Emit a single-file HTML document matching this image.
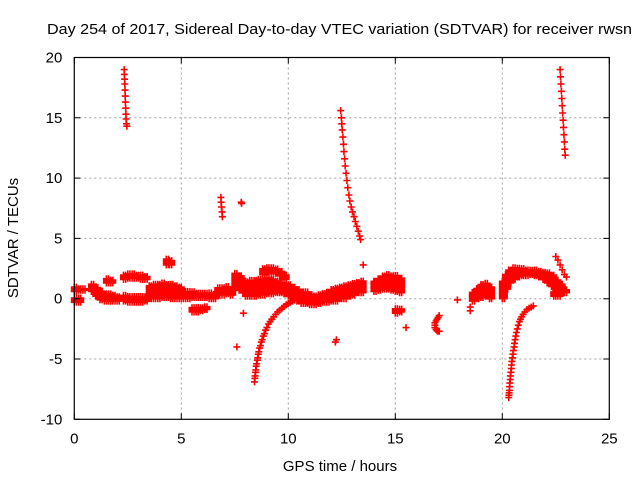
<!DOCTYPE html>
<html><head><meta charset="utf-8"><style>
html,body{margin:0;padding:0;background:#fff;}
svg{display:block;font-family:"Liberation Sans",sans-serif;}
</style></head><body>
<svg id="chart" width="640" height="480" viewBox="0 0 640 480">
<rect width="640" height="480" fill="#fff"/>
<text x="47" y="34" font-size="15" textLength="585" lengthAdjust="spacingAndGlyphs" fill="#000">Day 254 of 2017, Sidereal Day-to-day VTEC variation (SDTVAR) for receiver rwsn</text>
<g id="grid"></g>
<g id="marks"></g>
<g id="axes"></g>
<text x="340" y="471" font-size="15" text-anchor="middle">GPS time / hours</text>
<text transform="translate(18,238) rotate(-90)" font-size="15" text-anchor="middle">SDTVAR / TECUs</text>
</svg>
<script>
const xTicks=[0,5,10,15,20,25];
const yTicks=[-10,-5,0,5,10,15,20];
// dense clusters: bin hour, low value, high value
const binH=[0,0.2,0.4,0,0.2,0.8,1.0,1.2,1.4,1.6,1.8,2.0,1.5,1.7,2.3,2.5,2.7,2.9,3.1,3.3,2.3,2.5,2.7,2.9,3.1,3.3,3.5,3.7,3.9,4.1,4.3,4.5,4.7,4.9,4.3,4.45,5.1,5.3,5.5,5.7,5.9,6.1,6.3,6.5,5.5,5.7,5.9,6.1,6.7,6.9,7.1,7.3,7.5,7.7,7.9,8.0,8.2,8.4,8.6,8.8,9.0,9.2,9.4,9.6,9.8,10.0,10.2,10.4,8.8,9.0,9.2,9.4,9.6,9.8,10.6,10.8,11.0,11.2,11.4,11.6,11.8,12.0,12.2,12.4,12.6,12.8,13.0,13.2,13.4,14.0,14.2,14.4,14.6,14.8,15.0,15.2,15.0,15.2,18.6,18.8,19.0,19.2,19.4,20.0,20.15,20.3,20.5,20.7,20.9,21.1,21.3,21.5,21.7,21.9,22.1,22.3,22.5,22.7,22.9,22.4,22.6];
const binLo=[0.6,0.7,0.7,-0.3,-0.3,0.6,0.2,-0.1,-0.2,-0.2,-0.2,-0.2,1.3,1.3,-0.2,-0.3,-0.3,-0.3,-0.3,-0.2,1.6,1.7,1.7,1.7,1.6,1.6,0.0,0.0,0.0,0.1,0.1,0.0,0.0,0.0,2.8,2.8,0.0,0.0,0.1,0.1,0.1,0.1,0.0,0.0,-1.1,-1.1,-1.0,-0.9,0.3,0.3,0.4,0.3,0.9,0.7,0.5,0.2,0.2,0.2,0.3,0.3,0.4,0.4,0.5,0.5,0.4,0.2,0.0,-0.2,2.0,2.1,2.2,2.1,1.9,1.6,-0.4,-0.4,-0.5,-0.5,-0.4,-0.3,-0.3,-0.2,-0.2,0.0,0.0,0.2,0.3,0.5,0.5,0.6,0.7,0.8,0.8,0.7,0.6,0.5,-1.2,-1.1,-0.2,0.0,0.1,0.2,0.0,0.0,0.8,1.3,1.6,1.8,1.9,1.9,2.0,1.9,1.8,1.6,1.3,1.0,0.7,0.6,0.5,0.2,0.2];
const binHi=[1.0,0.9,0.9,0.1,0.1,1.2,1.0,0.7,0.5,0.4,0.3,0.2,1.7,1.6,0.3,0.2,0.2,0.2,0.2,0.2,2.0,2.1,2.1,2.0,2.0,1.9,1.1,1.2,1.3,1.3,1.2,1.2,1.1,1.0,3.3,3.2,0.7,0.6,0.6,0.5,0.5,0.5,0.5,0.4,-0.7,-0.7,-0.7,-0.6,0.9,0.9,1.0,0.8,2.2,1.9,1.5,1.5,1.6,1.6,1.7,1.7,1.8,1.6,1.5,1.4,1.3,1.2,1.0,0.8,2.5,2.6,2.6,2.5,2.3,2.0,0.6,0.6,0.4,0.3,0.4,0.5,0.6,0.8,0.9,1.0,1.1,1.2,1.3,1.4,1.5,1.5,1.7,1.9,2.0,2.0,2.0,1.8,-0.8,-0.8,0.6,0.9,1.2,1.3,1.0,1.5,2.0,2.4,2.6,2.6,2.5,2.4,2.4,2.4,2.3,2.3,2.2,2.0,1.6,1.2,0.8,0.6,0.6];
// individual tracks / points
const ptH=[2.33,2.34,2.35,2.36,2.37,2.38,2.39,2.40,2.41,2.42,2.44,2.46,
6.85,6.86,6.88,6.90,6.92,7.80,7.82,
12.45,12.48,12.50,12.52,12.55,12.58,12.60,12.63,12.66,12.70,12.74,12.78,12.83,12.88,12.94,13.00,13.07,13.13,13.20,13.27,13.33,13.38,
22.70,22.72,22.74,22.76,22.78,22.80,22.82,22.84,22.86,22.88,22.90,22.92,22.94,
8.42,8.44,8.45,8.47,8.48,8.50,8.52,8.55,8.57,8.60,8.62,8.66,8.70,8.74,8.78,8.83,8.88,8.94,9.00,9.07,9.15,9.23,9.32,9.41,9.50,9.60,9.70,9.80,9.90,10.00,10.10,10.20,10.30,
20.30,20.31,20.32,20.33,20.34,20.35,20.37,20.38,20.40,20.42,20.43,20.45,20.47,20.50,20.52,20.55,20.57,20.60,20.63,20.66,20.70,20.75,20.80,20.85,20.90,20.97,21.05,21.15,21.25,21.35,21.45,
7.60,12.20,12.25,15.50,17.90,18.50,18.50,13.50,7.90,
17.05,17.0,16.95,16.9,16.85,16.85,16.85,16.9,16.95,17.0,17.05,
22.50,22.60,22.70,22.80,22.90,23.00];
const ptV=[19.0,18.6,18.2,17.8,17.3,16.8,16.3,15.8,15.3,14.9,14.5,14.3,
8.4,8.0,7.6,7.2,6.8,8.0,7.9,
15.6,15.0,14.5,14.0,13.4,12.8,12.2,11.6,11.0,10.4,9.8,9.2,8.6,8.1,7.6,7.2,6.8,6.4,6.0,5.6,5.2,4.9,
19.0,18.4,17.8,17.2,16.6,16.0,15.4,14.8,14.2,13.6,13.0,12.4,11.9,
-6.9,-6.6,-6.4,-6.1,-5.9,-5.6,-5.4,-5.1,-4.9,-4.6,-4.4,-4.1,-3.9,-3.6,-3.4,-3.1,-2.9,-2.6,-2.4,-2.1,-1.9,-1.7,-1.5,-1.3,-1.1,-0.95,-0.8,-0.65,-0.5,-0.4,-0.3,-0.2,-0.1,
-8.2,-8.0,-7.8,-7.6,-7.3,-7.0,-6.7,-6.4,-6.1,-5.8,-5.5,-5.2,-4.9,-4.6,-4.3,-4.0,-3.7,-3.4,-3.1,-2.8,-2.5,-2.2,-1.9,-1.7,-1.5,-1.3,-1.1,-0.9,-0.8,-0.7,-0.6,
-4.0,-3.6,-3.4,-2.4,-0.1,-0.7,-1.0,2.8,-1.2,
-1.4,-1.55,-1.7,-1.85,-2.0,-2.2,-2.4,-2.55,-2.65,-2.7,-2.7,
3.5,3.2,2.8,2.4,2.0,1.8];

const L=74.3,R=609.3,T=57.5,B=419.3;
const xS=h=>L+(h-0)/(25-0)*(R-L);
const yS=v=>B-(v+10)/(30)*(B-T);
const NS='http://www.w3.org/2000/svg';
function mk(tag,attrs,parent){const e=document.createElementNS(NS,tag);for(const k in attrs)e.setAttribute(k,attrs[k]);parent.appendChild(e);return e;}
const grid=document.getElementById('grid'),axes=document.getElementById('axes'),marks=document.getElementById('marks');
xTicks.forEach(t=>{
  const x=xS(t);
  if(t>0&&t<25){const g=mk('line',{x1:x,x2:x,y1:T,y2:B,stroke:'#a0a0a0','stroke-dasharray':'2,3'},grid);
    
    }
  const tk=mk('path',{d:`M${x},${B}v-6M${x},${T}v6`,stroke:'#000'},axes);
  
  
  const lb=mk('text',{x:x,y:B+24,'font-size':15,'text-anchor':'middle'},axes);lb.textContent=t;
  
  
});
yTicks.forEach(t=>{
  const y=yS(t);
  if(t>-10&&t<20){const g=mk('line',{x1:L,x2:R,y1:y,y2:y,stroke:'#a0a0a0','stroke-dasharray':'2,3'},grid);
    
    }
  const tk=mk('path',{d:`M${L},${y}h6M${R},${y}h-6`,stroke:'#000'},axes);
  
  
  const lb=mk('text',{x:L-12,y:y+5,'font-size':15,'text-anchor':'end'},axes);lb.textContent=t;
  
  
});
const fr=mk('rect',{x:L,y:T,width:R-L,height:B-T,fill:'none',stroke:'#000','stroke-width':1.2},axes);


let d='';
function plus(h,v){const x=xS(h),y=yS(v);d+=`M${(x-3.5).toFixed(1)},${y.toFixed(1)}h7M${x.toFixed(1)},${(y-3.5).toFixed(1)}v7`;}
for(let i=0;i<binH.length;i++){
  for(let v=binLo[i];v<=binHi[i]+0.001;v+=0.12){plus(binH[i],v);plus(binH[i]+0.1,v);}
}
for(let i=0;i<ptH.length;i++)plus(ptH[i],ptV[i]);
const p=mk('path',{d:d,stroke:'#ff0000','stroke-width':1.6,fill:'none'},marks);


</script>
</body></html>
